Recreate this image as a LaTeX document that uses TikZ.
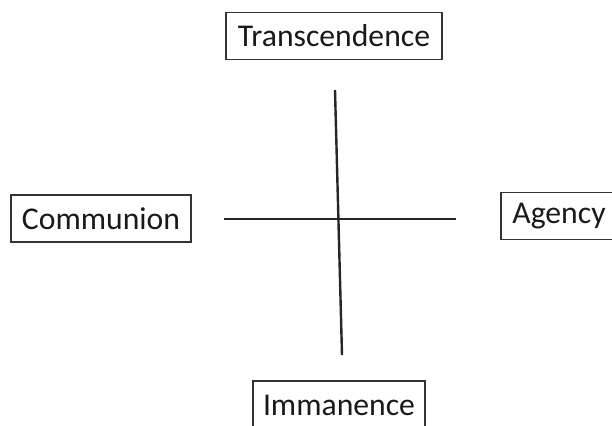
\documentclass[tikz,border=0pt]{standalone}
\usepackage{fontspec}
\setmainfont{Carlito}
\usepackage{tikz}
\usetikzlibrary{positioning}

\tikzset{
    pole/.style={draw=black!80, line width=1.1bp, inner sep=0pt,
        minimum height=47bp, font=\fontsize{31.8}{36}\selectfont, text=black!90},
    axis/.style={line width=2.4bp, black!85},
}

\begin{document}
\begin{tikzpicture}[x=1bp, y=-1bp]
    \useasboundingbox (0, 0) rectangle (612, 425);

    % the four poles
    \node[pole, minimum width=216bp] (trans) at (334, 36) {Transcendence};
    \node[pole, minimum width=180bp] (comm) at (101, 218.5) {Communion};
    \node[pole, minimum width=116bp] (agency) at (559, 216) {Agency};
    \node[pole, minimum width=172bp, minimum height=48bp] (imman) at (339, 405) {Immanence};

    % cross
    \coordinate (vtop) at (335, 90);
    \coordinate (vbot) at (342, 355);
    \coordinate (hleft) at (224, 219);
    \coordinate (hright) at (456, 219);
    \draw[axis] (vtop) -- (vbot);
    \draw[axis] (hleft) -- (hright);
\end{tikzpicture}
\end{document}
